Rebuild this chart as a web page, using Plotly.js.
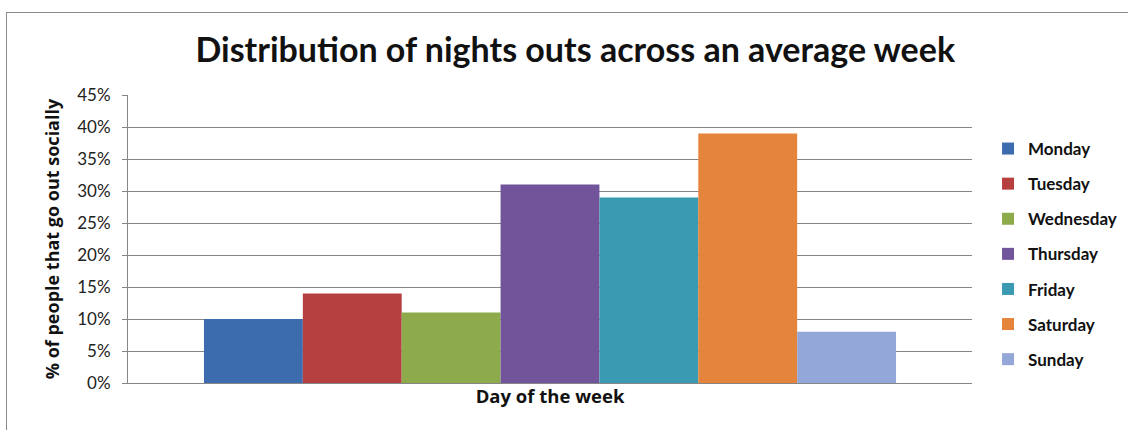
<!DOCTYPE html>
<html>
<head>
<meta charset="utf-8">
<script src="https://cdn.plot.ly/plotly-3.0.1.min.js"></script>
<style>
  html, body { margin: 0; padding: 0; background: #fff; }
  #frame { position: absolute; left: 6px; top: 12px; width: 1122px; height: 418px; border-top: 1px solid #8a8a8a; border-left: 1px solid #8a8a8a; box-sizing: border-box; pointer-events: none; z-index: 5; }
  #chart { width: 1128px; height: 430px; }
</style>
</head>
<body>
<div id="frame"></div>
<div id="chart"></div>
<script>
const category = ['Day of the week'];
const days = ['Monday', 'Tuesday', 'Wednesday', 'Thursday', 'Friday', 'Saturday', 'Sunday'];
const shares = [0.10, 0.14, 0.11, 0.31, 0.29, 0.39, 0.08];
const colors = ['#3d6cae', '#b6403f', '#8dab4a', '#71549a', '#3a9ab2', '#e5843b', '#93a7d9'];
const yTicks = [0, 0.05, 0.10, 0.15, 0.20, 0.25, 0.30, 0.35, 0.40, 0.45];

const font = 'Lato, "Open Sans", sans-serif';
const font2 = '"Open Sans", Lato, sans-serif';

const traces = days.map((d, i) => ({
  type: 'bar',
  name: d,
  x: category,
  y: [shares[i]],
  legendgroup: d,
  marker: { color: colors[i], line: { width: 0 } },
  hoverinfo: 'name+y'
}));

const layout = {
  width: 1128,
  height: 430,
  margin: { l: 128, r: 156, t: 95, b: 47, autoexpand: false },
  paper_bgcolor: 'rgba(0,0,0,0)',
  plot_bgcolor: '#ffffff',
  barmode: 'group',
  bargap: 0.18,
  bargroupgap: 0,
  title: {
    text: '<b>Distribution of nights outs across an average week</b>',
    font: { family: font, size: 34, color: '#111' },
    x: 0.51, xanchor: 'center', y: 0.883, yanchor: 'middle'
  },
  xaxis: {
    type: 'category',
    showticklabels: false,
    ticks: '',
    showgrid: false,
    showline: true,
    linecolor: '#868686',
    linewidth: 1,
    automargin: false,
    title: { text: '<b>Day of the week</b>', font: { family: font2, size: 18.5, color: '#111' }, standoff: 7 }
  },
  yaxis: {
    range: [0, 0.45],
    tickvals: yTicks,
    tickformat: '.0%',
    ticks: 'outside',
    ticklen: 5,
    tickcolor: '#868686',
    ticklabelstandoff: 8,
    showline: true,
    linecolor: '#868686',
    linewidth: 1,
    showgrid: true,
    gridcolor: '#868686',
    gridwidth: 1,
    zeroline: false,
    automargin: false,
    tickfont: { family: font, size: 17, color: '#222' },
    title: { text: '<b>% of people that go out socially</b>', font: { family: font2, size: 18, color: '#111' }, standoff: 12 }
  },
  legend: {
    x: 1.019, xanchor: 'left',
    y: 0.875, yanchor: 'top',
    font: { family: font, size: 17, color: '#111', weight: 'bold' },
    tracegroupgap: 10,
    itemwidth: 30,
    traceorder: 'grouped',
    bgcolor: 'rgba(0,0,0,0)'
  },
  showlegend: true
};

Plotly.newPlot('chart', traces, layout, { displayModeBar: false, staticPlot: true });
</script>
</body>
</html>
